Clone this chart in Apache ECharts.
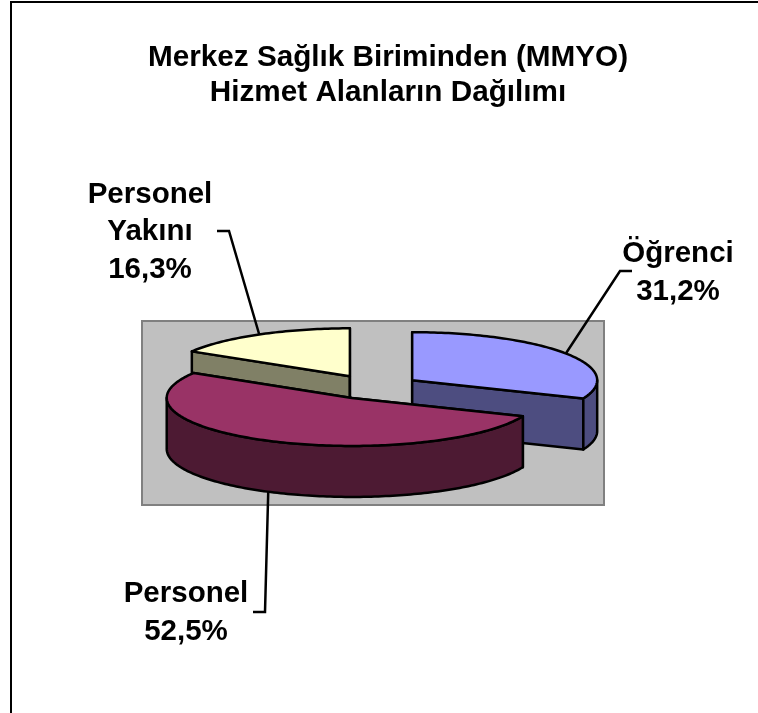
<!DOCTYPE html>
<html>
<head>
<meta charset="utf-8">
<title>Merkez Sağlık Birimi</title>
<style>
  html, body { margin: 0; padding: 0; background: #fff; }
  #chart { width: 758px; height: 713px; }
</style>
</head>
<body>
<div id="chart"></div>
<script src="https://cdn.jsdelivr.net/npm/echarts@6/dist/echarts.min.js"></script>
<script>
const titleLines = ['Merkez Sağlık Biriminden (MMYO)', 'Hizmet Alanların Dağılımı']
const categories = ['Öğrenci', 'Personel', 'Personel\nYakını']
const shares = [31.2, 52.5, 16.3]
const topColors = ['#9999FF', '#993366', '#FFFFCC']
const sideColors = ['#4D4D80', '#4D1A33', '#808066']

// back to front, the maroon slice sits over the other two
const paintOrder = { 0: 10, 2: 20, 1: 30 }

const FONT = '"Liberation Sans", Arial, sans-serif'
const center = [373, 387]
const rx = 185
const ry = 48
const depth = 51
const explode = 0.255
const lineColor = '#000'

// label position and leader bend for each slice
const labelLayout = [
  { x: 678, y: 273, lead: [[632, 271], [620, 271]] },
  { x: 186, y: 613, lead: [[253, 612], [265, 612]] },
  { x: 150, y: 232, lead: [[217, 231], [229, 231]] },
]

const total = shares.reduce((a, b) => a + b, 0)

// angle is clockwise from 12 o'clock
function rim(c, t) {
  return [c[0] + rx * Math.sin(t), c[1] - ry * Math.cos(t)]
}

function down(p) {
  return [p[0], p[1] + depth]
}

function arcPoints(c, from, to) {
  const steps = Math.max(2, Math.ceil((to - from) / 0.02))
  const pts = []
  for (let i = 0; i <= steps; i++) pts.push(rim(c, from + ((to - from) * i) / steps))
  return pts
}

function poly(points, fill, z2) {
  return {
    type: 'polygon',
    z2,
    shape: { points },
    style: { fill, stroke: lineColor, lineWidth: 2.5, lineJoin: 'round' },
  }
}

function renderSlice(params, api) {
  const i = params.dataIndex
  const before = shares.slice(0, i).reduce((a, b) => a + b, 0)
  const start = (before / total) * Math.PI * 2
  const end = ((before + api.value(0)) / total) * Math.PI * 2
  const mid = (start + end) / 2
  const c = [
    center[0] + rx * explode * Math.sin(mid),
    center[1] - ry * explode * Math.cos(mid),
  ]
  const z = paintOrder[i]
  const children = []

  // the two cut faces
  ;[start, end].forEach((t) => {
    const p = rim(c, t)
    children.push(poly([c, p, down(p), down(c)], sideColors[i], z))
  })

  // outer wall, only the front half shows
  const from = Math.max(start, Math.PI / 2)
  const to = Math.min(end, (Math.PI * 3) / 2)
  if (to > from) {
    const arc = arcPoints(c, from, to)
    children.push(poly(arc.concat(arc.map(down).reverse()), sideColors[i], z + 1))
  }

  // top face
  children.push(poly([c].concat(arcPoints(c, start, end)), topColors[i], z + 2))

  // leader line, front slices leave from the bottom edge
  const onRim = rim(c, mid)
  const anchor = Math.cos(mid) < 0 ? down(onRim) : onRim
  const layout = labelLayout[i]
  children.push({
    type: 'polyline',
    z2: 5,
    shape: { points: layout.lead.concat([anchor]) },
    style: { fill: 'none', stroke: lineColor, lineWidth: 2.5 },
  })

  const text = categories[i] + '\n' + api.value(0).toFixed(1).replace('.', ',') + '%'
  children.push({
    type: 'text',
    z2: 40,
    x: layout.x,
    y: layout.y,
    style: {
      text,
      fill: '#000',
      font: 'bold 29.5px ' + FONT,
      lineHeight: 37.5,
      align: 'center',
      verticalAlign: 'middle',
    },
  })

  return { type: 'group', children }
}

const chart = echarts.init(document.getElementById('chart'), null, { renderer: 'canvas' })

chart.setOption({
  animation: false,
  backgroundColor: '#fff',
  title: {
    text: titleLines.join('\n'),
    left: 383,
    top: 35,
    textAlign: 'center',
    textStyle: {
      fontFamily: FONT,
      fontSize: 29.7,
      fontWeight: 'bold',
      color: '#000',
      lineHeight: 35,
    },
  },
  graphic: [
    { type: 'polyline', z: 1, shape: { points: [[11, 713], [11, 2], [758, 2]] }, style: { fill: 'none', stroke: '#000', lineWidth: 2 } },
    { type: 'rect', z: 1, shape: { x: 142, y: 321, width: 462, height: 184 }, style: { fill: '#C0C0C0', stroke: '#808080', lineWidth: 2 } },
  ],
  series: [
    {
      type: 'custom',
      coordinateSystem: 'none',
      z: 5,
      silent: true,
      renderItem: renderSlice,
      data: shares.map((v) => [v]),
    },
  ],
})
</script>
</body>
</html>
